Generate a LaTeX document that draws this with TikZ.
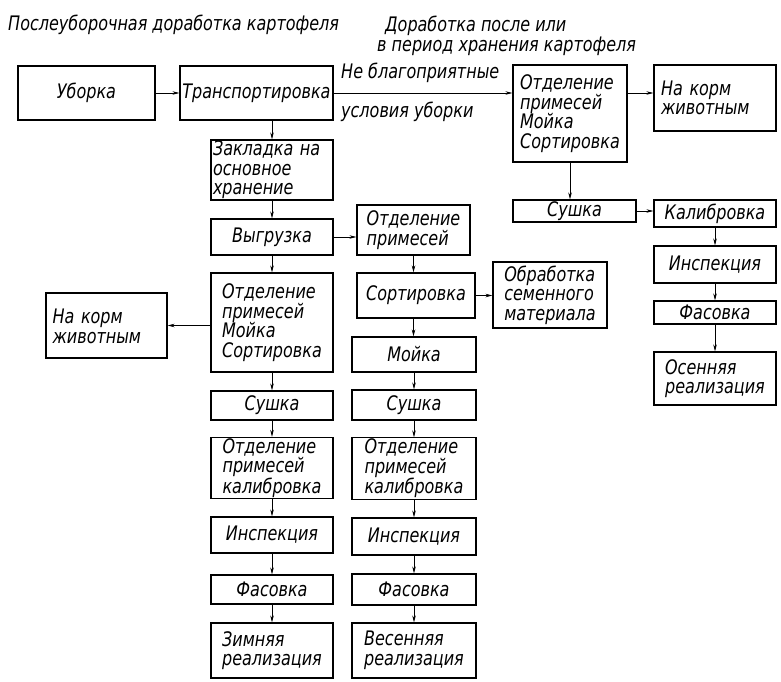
\documentclass[tikz,border=0pt]{standalone}
\usepackage{fontspec}
\setmainfont{DejaVu Sans Condensed}[FakeStretch=0.89]
\usetikzlibrary{arrows.meta}
\newcommand\mybox[7][]{%
  \node[box, minimum width={#5pt-#3pt}, minimum height={#6pt-#4pt}, #1] (#2) at ({(#3+#5)/2},{(#4+#6)/2}) {#7};}
\begin{document}
\begin{tikzpicture}[x=1pt,y=-1pt,
  font=\fontsize{20}{19.5}\selectfont\itshape,
  box/.style={draw, line width=1.1pt, inner sep=1pt, align=center},
  conn/.style={line width=0.7pt, -{Stealth[length=7pt,width=3.5pt]}},
  lbl/.style={inner sep=0pt, anchor=west}]
\useasboundingbox (0,0) rectangle (781,682);
% titles
\node[lbl] (ttlA) at (8,25) {Послеуборочная доработка картофеля};
\node[lbl, align=left, anchor=north west] (ttlB) at (377,16) {\hspace*{8pt}Доработка после или\\в период хранения картофеля};
% top row
\mybox{ubor}{18}{66}{155}{120}{Уборка}
\mybox{trans}{180}{66}{333}{120}{Транспортировка}
\mybox[align=left]{otdA}{513}{65}{627}{162}{Отделение\\примесей\\Мойка\\Сортировка}
\mybox[align=left, text width=108pt, text depth=20pt]{kormA}{654}{65}{776}{131}{На корм\\животным}
\node[lbl] (lblA) at (341,73) {Не благоприятные};
\node[lbl] (lblB) at (341,112) {условия уборки};
% right column
\mybox{sushA}{513}{200}{636}{222}{Сушка}
\mybox{kalib}{654}{200}{776}{227}{Калибровка}
\mybox{inspA}{654}{246}{776}{283}{Инспекция}
\mybox{fasA}{654}{301}{776}{324}{Фасовка}
\mybox[align=left]{osen}{654}{352}{776}{405}{Осенняя\\реализация}
\mybox[align=left]{obr}{493}{262}{607}{328}{Обработка\\семенного\\материала}
% left column
\mybox[align=left, text width=118pt]{zakl}{211}{140}{333}{200}{Закладка на\\основное\\хранение}
\mybox{vygr}{211}{219}{333}{255}{Выгрузка}
\mybox[align=left]{otdL}{211}{273}{333}{372}{Отделение\\примесей\\Мойка\\Сортировка}
\mybox[align=left, text width=108pt, text depth=18pt]{kormB}{46}{293}{167}{358}{На корм\\животным}
\mybox{sushB}{211}{391}{333}{420}{Сушка}
\mybox[align=left]{otdkB}{211}{438}{333}{498}{Отделение\\примесей\\калибровка}
\mybox{inspB}{211}{517}{333}{553}{Инспекция}
\mybox{fasB}{211}{575}{333}{604}{Фасовка}
\mybox[align=left]{zim}{211}{623}{333}{678}{Зимняя\\реализация}
% middle column
\mybox[align=left]{otdC}{357}{205}{470}{255}{Отделение\\примесей}
\mybox{sort}{357}{273}{475}{318}{Сортировка}
\mybox{moika}{352}{337}{476}{372}{Мойка}
\mybox{sushC}{352}{390}{476}{420}{Сушка}
\mybox[align=left]{otdkC}{352}{439}{476}{498}{Отделение\\примесей\\калибровка}
\mybox{inspC}{352}{518}{476}{555}{Инспекция}
\mybox{fasC}{352}{574}{476}{605}{Фасовка}
\mybox[align=left]{ves}{352}{623}{476}{678}{Весенняя\\реализация}
% connectors
\draw[conn] (ubor.east) -- (trans.west);
\draw[conn] (trans.east) -- (trans.east -| otdA.west);
\draw[conn] (trans.east -| otdA.east) -- (trans.east -| kormA.west);
\draw[conn] (otdA.south) -- (otdA.south |- sushA.north);
\draw[conn] (sushA.east) -- (sushA.east -| kalib.west);
\draw[conn] (kalib.south) -- (inspA.north);
\draw[conn] (inspA.south) -- (fasA.north);
\draw[conn] (fasA.south) -- (osen.north);
\draw[conn] (zakl.north |- trans.south) -- (zakl.north);
\draw[conn] (zakl.south) -- (vygr.north);
\draw[conn] (vygr.south) -- (otdL.north);
\draw[conn] (vygr.east) -- (vygr.east -| otdC.west);
\draw[conn] (otdC.south) -- (otdC.south |- sort.north);
\draw[conn] (sort.east) -- (sort.east -| obr.west);
\draw[conn] (otdC.south |- sort.south) -- (otdC.south |- moika.north);
\draw[conn] (moika.south) -- (sushC.north);
\draw[conn] (sushC.south) -- (otdkC.north);
\draw[conn] (otdkC.south) -- (inspC.north);
\draw[conn] (inspC.south) -- (fasC.north);
\draw[conn] (fasC.south) -- (ves.north);
\draw[conn] (otdL.west |- kormB.east) -- (kormB.east);
\draw[conn] (otdL.south) -- (sushB.north);
\draw[conn] (sushB.south) -- (otdkB.north);
\draw[conn] (otdkB.south) -- (inspB.north);
\draw[conn] (inspB.south) -- (fasB.north);
\draw[conn] (fasB.south) -- (zim.north);
\end{tikzpicture}
\end{document}
